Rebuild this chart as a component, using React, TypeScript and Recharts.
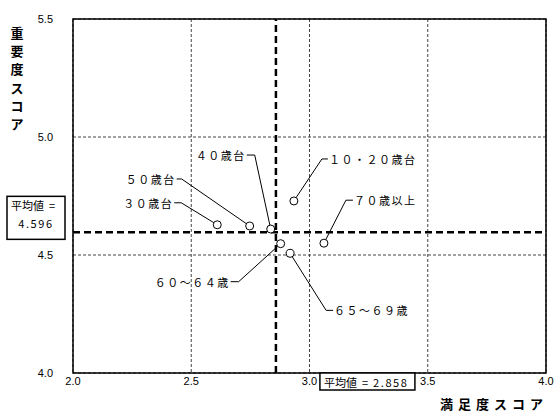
import React from 'react';
import { ScatterChart, Scatter, XAxis, YAxis, CartesianGrid, ReferenceLine, ReferenceArea } from 'recharts';

const categories = ['１０・２０歳台', '３０歳台', '４０歳台', '５０歳台', '６０～６４歳', '６５～６９歳', '７０歳以上'];
const satisfaction = [2.934, 2.61, 2.836, 2.747, 2.878, 2.918, 3.061];
const importance = [4.729, 4.628, 4.61, 4.623, 4.548, 4.507, 4.55];

const xTicks = [2.0, 2.5, 3.0, 3.5, 4.0];
const yTicks = [4.0, 4.5, 5.0, 5.5];

const meanSatisfaction = 2.858;
const meanImportance = 4.596;

const xTitle = '満足度スコア';
const yTitle = '重要度スコア';

const data = categories.map((name, i) => ({ name, x: satisfaction[i], y: importance[i] }));

// where each callout sits, in pixels from its point
const callouts: Record<string, { dx: number; dy: number; side: 'left' | 'right'; stub: number }> = {
  '４０歳台': { dx: -16, dy: -74, side: 'left', stub: 8 },
  '５０歳台': { dx: -68, dy: -47, side: 'left', stub: 5 },
  '３０歳台': { dx: -36, dy: -22, side: 'left', stub: 7 },
  '１０・２０歳台': { dx: 28, dy: -42, side: 'right', stub: 6 },
  '７０歳以上': { dx: 22, dy: -43, side: 'right', stub: 7 },
  '６０～６４歳': { dx: -42, dy: 38, side: 'left', stub: 8 },
  '６５～６９歳': { dx: 36, dy: 57, side: 'right', stub: 7 },
};

const jpFont = '"Noto Sans CJK JP", "Noto Sans", sans-serif';
const numFont = '"Liberation Sans", Arial, sans-serif';

const renderPoint = (props: any) => {
  const { cx, cy, payload } = props;
  const r = 4;
  const c = callouts[payload?.name];
  if (!c) return <circle cx={cx} cy={cy} r={r} fill="#fff" stroke="#000" />;
  const ex = cx + c.dx;
  const ey = cy + c.dy;
  const len = Math.sqrt(c.dx * c.dx + c.dy * c.dy);
  const sx = cx + (c.dx / len) * r;
  const sy = cy + (c.dy / len) * r;
  const tx = c.side === 'left' ? ex - c.stub : ex + c.stub;
  return (
    <g>
      <polyline points={`${sx},${sy} ${ex},${ey} ${tx},${ey}`} fill="none" stroke="#000" strokeWidth={1} />
      <text
        x={c.side === 'left' ? tx - 1 : tx + 1}
        y={ey}
        textAnchor={c.side === 'left' ? 'end' : 'start'}
        dominantBaseline="central"
        fontSize={11}
        fontFamily={jpFont}
        letterSpacing={1.5}
        fill="#000"
      >
        {payload.name}
      </text>
      <circle cx={cx} cy={cy} r={r} fill="#fff" stroke="#000" strokeWidth={1} />
    </g>
  );
};

const MeanXLabel = (props: any) => {
  const { viewBox } = props;
  const x = viewBox.x + 44;
  const y = viewBox.y + viewBox.height;
  return (
    <g>
      <rect x={x} y={y} width={95} height={17} fill="#fff" stroke="#000" strokeWidth={1.5} />
      <text x={x + 4} y={y + 9} dominantBaseline="central" fontSize={11} fontFamily={jpFont} fill="#000" style={{ whiteSpace: 'pre' }}>
        <tspan>平均値</tspan>
        <tspan dx={5}>=</tspan>
        <tspan dx={5} letterSpacing={1.6}>{meanSatisfaction.toFixed(3)}</tspan>
      </text>
    </g>
  );
};

const MeanYLabel = (props: any) => {
  const { viewBox } = props;
  const x = viewBox.x - 66;
  const y = viewBox.y - 36;
  return (
    <g>
      <rect x={x} y={y} width={58} height={43} fill="#fff" stroke="#000" strokeWidth={1.5} />
      <text x={x + 4} y={y + 9} dominantBaseline="central" fontSize={11} fontFamily={jpFont} fill="#000">
        <tspan>平均値</tspan>
        <tspan dx={5}>=</tspan>
      </text>
      <text x={x + 29} y={y + 27} textAnchor="middle" dominantBaseline="central" fontSize={11} fontFamily={jpFont} letterSpacing={1.6} fill="#000">
        {meanImportance.toFixed(3)}
      </text>
    </g>
  );
};

const YTitle = (props: any) => {
  const { viewBox } = props;
  const x = viewBox.x + 17;
  return (
    <text x={x} fontSize={13} fontWeight="bold" fontFamily={jpFont} textAnchor="middle" fill="#000">
      {yTitle.split('').map((ch, i) => (
        <tspan key={i} x={x} y={38 + i * 18.2}>{ch}</tspan>
      ))}
    </text>
  );
};

const XTitle = (props: any) => {
  const { viewBox } = props;
  return (
    <text x={viewBox.x + viewBox.width + 2} y={409} textAnchor="end" fontSize={13} fontWeight="bold" fontFamily={jpFont} letterSpacing={5} fill="#000">
      {xTitle}
    </text>
  );
};

const App: React.FC = () => {
  return (
    <div style={{ position: 'absolute', left: 0, top: 0, width: 556, height: 414, background: '#fff' }}>
      <ScatterChart width={556} height={414} margin={{ top: 19, right: 10, bottom: 0, left: 0 }}>
        <CartesianGrid stroke="#444" strokeDasharray="3 2" strokeWidth={1} />
        <XAxis
          type="number"
          dataKey="x"
          domain={[2, 4]}
          ticks={xTicks}
          tickFormatter={(v: number) => v.toFixed(1)}
          height={41}
          axisLine={false}
          tickLine={false}
          tickSize={0}
          tickMargin={4}
          tick={{ fontSize: 11, fontFamily: numFont, fill: '#000' }}
          label={<XTitle />}
        />
        <YAxis
          type="number"
          dataKey="y"
          domain={[4, 5.5]}
          ticks={yTicks}
          tickFormatter={(v: number) => v.toFixed(1)}
          width={73}
          axisLine={false}
          tickLine={false}
          tickSize={0}
          tickMargin={20}
          tick={{ fontSize: 11, fontFamily: numFont, fill: '#000' }}
          label={<YTitle />}
        />
        <ReferenceArea x1={2} x2={4} y1={4} y2={5.5} fill="none" fillOpacity={0} stroke="#000" strokeWidth={1.5} />
        <ReferenceLine x={meanSatisfaction} stroke="#000" strokeWidth={2.5} strokeDasharray="7 4" label={<MeanXLabel />} />
        <ReferenceLine y={meanImportance} stroke="#000" strokeWidth={2.5} strokeDasharray="7 4" label={<MeanYLabel />} />
        <Scatter data={data} shape={renderPoint} isAnimationActive={false} />
      </ScatterChart>
    </div>
  );
};

export default App;
